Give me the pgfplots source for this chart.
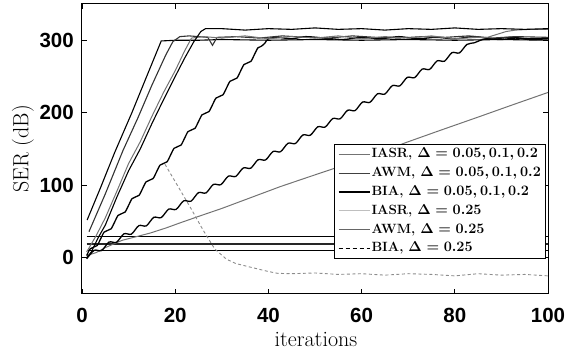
\documentclass[border=0pt]{standalone}
\usepackage{fontspec}
\usepackage{pgfplots}
\pgfplotsset{compat=1.18}
\newfontfamily\ticksfont{Liberation Sans}
\newcommand\lgt[1]{{\bfseries\boldmath #1}}
\begin{document}
\begin{tikzpicture}
\begin{axis}[
 scale only axis, width=466pt, height=290pt,
 xmin=0, xmax=100, ymin=-50, ymax=350,
 xtick={0,20,40,60,80,100}, ytick={0,100,200,300},
 tick align=inside, major tick length=5pt,
 axis line style={line width=1pt}, tick style={line width=0.9pt, black},
 /pgf/number format/assume math mode=true,
 ticklabel style={font=\ticksfont\bfseries\fontsize{20.5}{22}\selectfont},
 xticklabel style={inner sep=0pt, yshift=-14pt},
 yticklabel style={inner sep=0pt, xshift=-8pt},
 xlabel={iterations}, ylabel={SER (dB)},
 label style={font=\fontsize{22}{24}\selectfont},
 xlabel style={at={(axis description cs:0.502,0)}, anchor=base, yshift=-53pt},
 ylabel style={at={(axis description cs:-0.127,0.5)}, anchor=center},
 legend cell align=left,
 legend style={at={(rel axis cs:0.9957,0.517)}, anchor=north east, draw=black, line width=0.9pt, fill=white,
   font=\fontsize{13.4}{16}\selectfont, inner xsep=3.5pt, inner ysep=2pt, row sep=3pt,
   nodes={inner sep=1.2pt, text height=10.2pt, text depth=3.2pt}},
 legend image code/.code={\draw[#1] (0pt,0pt) -- (31pt,0pt);},
]
\coordinate (SW) at (rel axis cs:0,0);
\coordinate (NE) at (rel axis cs:1,1);
\addlegendimage{black!55, line width=1pt}
\addlegendentry{\lgt{IASR, $\Delta=0.05,0.1,0.2$}}
\addlegendimage{black!75, line width=1pt}
\addlegendentry{\lgt{AWM, $\Delta=0.05,0.1,0.2$}}
\addlegendimage{black, line width=1.2pt}
\addlegendentry{\lgt{BIA, $\Delta=0.05,0.1,0.2$}}
\addlegendimage{black!25, line width=1pt}
\addlegendentry{\lgt{IASR, $\Delta=0.25$}}
\addlegendimage{black!60, line width=1pt}
\addlegendentry{\lgt{AWM, $\Delta=0.25$}}
\addlegendimage{black, line width=1.1pt, dash pattern=on 4pt off 3pt}
\addlegendentry{\lgt{BIA, $\Delta=0.25$}}

% horizontal lines
\addplot[forget plot, black, line width=1.1pt] coordinates {(1,29.5) (100,29.5)};
\addplot[forget plot, black!85, line width=1.1pt] coordinates {(1,19) (100,19)};
\addplot[forget plot, black, line width=1.1pt] coordinates {(1,9.5) (100,9.5)};

% gray slow line
\addplot[forget plot, black!55, line width=1pt] coordinates {(1,3) (3,7) (5,14) (8.6,24) (11,28) (14.6,34) (18,41) (21,48) (25,57) (30,68) (35,80) (42.5,98) (48,110) (55.4,126) (62,141) (70,160) (77,176) (85,194) (92,210) (100,228)};

% dashed decreasing
\addplot[forget plot, black!45, line width=0.9pt, dash pattern=on 3pt off 2.5pt] coordinates {(17.8,129) (20,105) (23.2,70) (26,38) (28.5,12) (31,-2) (33,-8) (36.8,-14) (40,-19) (42,-21.5) (45,-22) (50,-21) (55,-23) (60,-22) (65,-24) (70,-22) (75,-23) (80,-25) (85,-22) (90,-24) (95,-23) (100,-25)};

% F wavy slow
\addplot[forget plot, black, line width=1.3pt, smooth] coordinates {(1.0,-1.5) (2.6,10.2) (4.2,9.9) (5.8,21.6) (7.4,21.3) (9.0,33.0) (10.6,32.6) (12.2,44.3) (13.8,44.0) (15.4,55.7) (17.0,55.4) (18.6,67.0) (20.2,66.7) (21.8,78.4) (23.4,78.1) (25.0,89.8) (26.6,89.4) (28.2,101.1) (29.8,100.8) (31.4,112.5) (33.0,112.2) (34.6,123.8) (36.2,123.5) (37.8,135.2) (39.4,134.9) (41.0,146.6) (42.6,146.2) (44.2,157.9) (45.8,157.6) (47.4,169.3) (49.0,169.0) (50.6,180.6) (52.2,180.3) (53.8,192.0) (55.4,191.7) (57.0,203.4) (58.6,203.0) (60.2,214.7) (61.8,214.4) (63.4,226.1) (65.0,225.8) (66.6,237.4) (68.2,237.1) (69.8,248.8) (71.4,248.5) (73.0,260.2) (74.6,259.8) (76.2,271.5) (77.8,271.2) (79.4,282.9) (81.0,282.6) (82.6,294.2) (84.2,296.5) (85.5,300) (87,302) (90,301) (93,303) (96,301) (100,302)};

% E wavy medium
\addplot[forget plot, black, line width=1.3pt, smooth] coordinates {(1,3) (1.75,12.3) (2.5,14.6) (3.25,16.8) (4,26.1) (4.75,35.4) (5.5,37.7) (6.25,39.9) (7,49.2) (7.75,58.5) (8.5,60.8) (9.25,63.0) (10,72.3) (10.75,81.6) (11.5,83.9) (12.25,86.1) (13,95.4) (13.75,104.7) (14.5,107.0) (15.25,109.2) (16,118.5) (16.75,127.8) (17.5,130.1) (18.25,132.3) (19,141.6) (19.75,150.9) (20.5,153.2) (21.25,155.4) (22,164.7) (22.75,174.0) (23.5,176.3) (24.25,178.5) (25,187.8) (25.75,197.1) (26.5,199.4) (27.25,201.6) (28,210.9) (28.75,220.2) (29.5,222.5) (30.25,224.7) (31,234.0) (31.75,243.3) (32.5,245.6) (33.25,247.8) (34,257.1) (34.75,266.4) (35.5,268.7) (36.25,270.9) (37,280.2) (37.75,289.5) (38.5,291.8) (39.25,296.0) (40,302) (42,304) (45,302) (48,305) (52,303) (56,301) (60,304) (64,302) (68,305) (72,302) (76,304) (80,302) (84,305) (88,302) (92,304) (96,302) (100,303)};

% A steepest
\addplot[forget plot, black, line width=1.1pt] coordinates {(1.1,52) (4,97) (7,145) (10.7,200) (14,252) (17,299) (20,300) (25,300) (30,301) (40,300) (50,301) (60,300) (70,301) (80,300) (90,301) (100,300)};

% B
\addplot[forget plot, black!80, line width=1.1pt] coordinates {(1.5,36) (5,88) (8.8,148) (12,193) (15,238) (18,280) (19.5,298) (21,305) (23,306) (25,305) (27,304) (28,293) (29,304) (33,305) (38,303) (43,306) (48,304) (53,303) (58,306) (63,304) (68,303) (73,305) (78,304) (83,306) (88,303) (93,305) (100,304)};

% C gray
\addplot[forget plot, black!55, line width=1pt] coordinates {(1,8) (3,30) (5,55) (7.5,92) (10,130) (12.5,160) (15,195) (17.5,228) (20,258) (22,285) (23.5,303) (26,305) (30,303) (35,306) (40,302) (45,305) (50,303) (55,306) (60,302) (65,305) (70,303) (75,306) (80,302) (85,304) (87,304) (89,308) (91,312) (93,314) (96,315) (100,315)};

% D top
\addplot[forget plot, black, line width=1.1pt] coordinates {(1,0) (2,8) (3.5,28) (5,45) (7.5,84) (10,120) (12.5,150) (15,185) (17.5,218) (20,250) (22,275) (24,298) (25.5,312) (26.5,316) (30,316) (35,314) (40,316) (45,315) (50,317) (55,315) (60,316) (65,314) (70,316) (75,315) (80,317) (85,315) (90,316) (95,315) (100,316)};
\end{axis}
\pgfresetboundingbox
\path[use as bounding box] ([shift={(-82pt,-60pt)}]SW) rectangle ([shift={(18pt,4pt)}]NE);
\end{tikzpicture}
\end{document}
